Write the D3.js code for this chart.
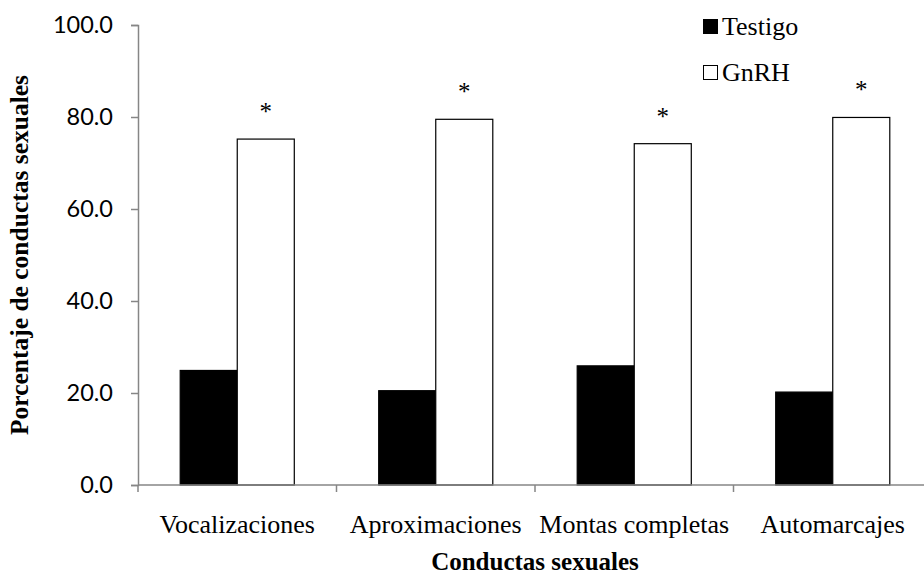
<!DOCTYPE html>
<html>
<head>
<meta charset="utf-8">
<script src="https://cdn.jsdelivr.net/npm/d3@7"></script>
<style>
  body { margin: 0; background: #fff; }
  svg { display: block; }
</style>
</head>
<body>
<div id="chart"></div>
<script>
const WIDTH = 924;
const HEIGHT = 577;

// data
const categories = ["Vocalizaciones", "Aproximaciones", "Montas completas", "Automarcajes"];
const series = ["Testigo", "GnRH"];
const testigo = [24.9, 20.5, 25.9, 20.2];
const gnrh = [75.2, 79.5, 74.2, 79.9];
const yTicks = [0, 20, 40, 60, 80, 100];

const margin = {left: 138, top: 25};
const plotRight = 932;
const plotBottom = 485;

let svg = d3.select("#chart")
    .append("svg")
    .attr("width", WIDTH)
    .attr("height", HEIGHT);

let x0 = d3.scaleBand()
    .domain(categories)
    .range([margin.left, plotRight])
    .padding(0);

let x1 = d3.scaleBand()
    .domain(series)
    .range([0, x0.bandwidth()])
    .paddingInner(0)
    .paddingOuter(0.74);

let y = d3.scaleLinear()
    .domain([0, 100])
    .range([plotBottom, margin.top]);

let color = {Testigo: "#000000", GnRH: "#ffffff"};

let rows = categories.map((c, i) => ({cat: c, Testigo: testigo[i], GnRH: gnrh[i]}));

// bars
let groups = svg.selectAll("g.cat")
    .data(rows)
    .enter()
    .append("g")
    .attr("class", "cat")
    .attr("transform", d => `translate(${x0(d.cat)},0)`);

groups.selectAll("rect")
    .data(d => series.map(s => ({key: s, value: d[s]})))
    .enter()
    .append("rect")
    .attr("x", d => x1(d.key))
    .attr("y", d => y(d.value))
    .attr("width", x1.bandwidth())
    .attr("height", d => y(0) - y(d.value))
    .attr("fill", d => color[d.key])
    .attr("stroke", "#000")
    .attr("stroke-width", 1.2);

// significance marks
groups.append("text")
    .attr("x", x1("GnRH") + x1.bandwidth() / 2)
    .attr("y", d => y(d.GnRH) - 19)
    .attr("text-anchor", "middle")
    .style("font-family", "'Liberation Serif', 'Times New Roman', serif")
    .style("font-size", "25px")
    .text("*");

// y axis
let yAxis = svg.append("g")
    .attr("transform", `translate(${margin.left},0)`)
    .call(d3.axisLeft(y).tickValues(yTicks).tickFormat(d3.format(".1f")).tickSize(7).tickPadding(18));

yAxis.select(".domain").attr("stroke", "#868686").attr("stroke-width", 1.5);
yAxis.selectAll(".tick line").attr("stroke", "#868686").attr("stroke-width", 1.5);
yAxis.selectAll(".tick text")
    .attr("fill", "#000")
    .style("font-family", "Lato, 'Open Sans', sans-serif")
    .style("font-size", "23.5px");

// x axis
let xAxis = svg.append("g")
    .attr("transform", `translate(0,${plotBottom})`);

xAxis.append("line")
    .attr("x1", margin.left)
    .attr("x2", plotRight)
    .attr("stroke", "#868686")
    .attr("stroke-width", 1.5);

xAxis.selectAll("line.tick")
    .data(categories.concat(["end"]))
    .enter()
    .append("line")
    .attr("class", "tick")
    .attr("x1", (d, i) => margin.left + i * x0.step())
    .attr("x2", (d, i) => margin.left + i * x0.step())
    .attr("y1", 0)
    .attr("y2", 7)
    .attr("stroke", "#868686")
    .attr("stroke-width", 1.5);

xAxis.selectAll("text.cat")
    .data(categories)
    .enter()
    .append("text")
    .attr("class", "cat")
    .attr("x", d => x0(d) + x0.bandwidth() / 2)
    .attr("y", 48)
    .attr("text-anchor", "middle")
    .style("font-family", "'Liberation Serif', 'Times New Roman', serif")
    .style("font-size", "26px")
    .text(d => d);

// axis titles
svg.append("text")
    .attr("x", 535)
    .attr("y", 570)
    .attr("text-anchor", "middle")
    .style("font-family", "'Liberation Serif', 'Times New Roman', serif")
    .style("font-weight", "bold")
    .style("font-size", "25px")
    .text("Conductas sexuales");

svg.append("text")
    .attr("transform", "translate(28,255) rotate(-90)")
    .attr("text-anchor", "middle")
    .style("font-family", "'Liberation Serif', 'Times New Roman', serif")
    .style("font-weight", "bold")
    .style("font-size", "25.5px")
    .text("Porcentaje de conductas sexuales");

// legend
let legend = svg.append("g")
    .attr("transform", "translate(703,19)");

let items = legend.selectAll("g")
    .data(series)
    .enter()
    .append("g")
    .attr("transform", (d, i) => `translate(0,${i * 46})`);

items.append("rect")
    .attr("x", 0.5)
    .attr("y", 0.5)
    .attr("width", 14)
    .attr("height", 14)
    .attr("fill", d => color[d])
    .attr("stroke", "#000")
    .attr("stroke-width", 1);

items.append("text")
    .attr("x", 19)
    .attr("y", 16)
    .style("font-family", "'Liberation Serif', 'Times New Roman', serif")
    .style("font-size", "26px")
    .text(d => d);
</script>
</body>
</html>
